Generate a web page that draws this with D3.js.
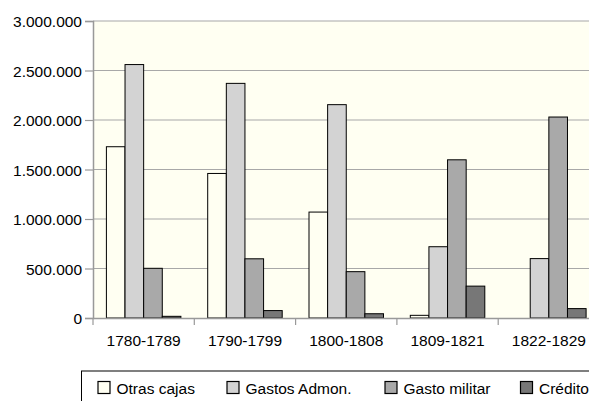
<!DOCTYPE html>
<html>
<head>
<meta charset="utf-8">
<script src="https://cdn.jsdelivr.net/npm/d3@7"></script>
<style>
html,body{margin:0;padding:0;background:#fff;overflow:hidden;}
svg{display:block;font-family:"Liberation Sans",Arial,Helvetica,sans-serif;}
</style>
</head>
<body>
<svg id="chart" width="589" height="401"></svg>
<script>
const categories = ["1780-1789","1790-1799","1800-1808","1809-1821","1822-1829"];
const seriesNames = ["Otras cajas","Gastos Admon.","Gasto militar","Crédito"];
const otrasCajas   = [1730000, 1460000, 1070000,   27000,       0];
const gastosAdmon  = [2560000, 2370000, 2155000,  720000,  600000];
const gastoMilitar = [ 502000,  598000,  468000, 1598000, 2030000];
const credito      = [  17000,   75000,   43000,  322000,   95000];
const yTicks = [0, 500000, 1000000, 1500000, 2000000, 2500000, 3000000];
const colors = ["#FFFFF2", "#D3D3D3", "#A9A9A9", "#777777"];

const seriesValues = [otrasCajas, gastosAdmon, gastoMilitar, credito];
const data = categories.map((c, i) => ({cat: c, vals: seriesValues.map(s => s[i])}));

const svg = d3.select("#chart");
const mLeft = 93, mTop = 21, mBottom = 318, mRight = 599.5;

const x0 = d3.scaleBand().domain(categories).range([mLeft, mRight]).padding(0);
const x1 = d3.scaleBand().domain(seriesNames.map((d,i)=>i)).range([13.4, x0.bandwidth() - 13.4]).padding(0);
const y = d3.scaleLinear().domain([0, 3000000]).range([mBottom, mTop]);

const fmt = v => d3.format(",")(v).replace(/,/g, ".");

// plot background
svg.append("rect").attr("x", mLeft).attr("y", mTop).attr("width", mRight - mLeft).attr("height", mBottom - mTop).attr("fill", "#FFFFF2");

// gridlines
svg.append("g").selectAll("line").data(yTicks.filter(t => t > 0)).join("line")
  .attr("x1", mLeft).attr("x2", 589).attr("y1", d => y(d)).attr("y2", d => y(d))
  .attr("stroke", "#A8A8A8").attr("stroke-width", 1.2);

// bars
const g = svg.append("g").selectAll("g").data(data).join("g")
  .attr("transform", d => `translate(${x0(d.cat)},0)`);
g.selectAll("rect").data(d => d.vals.map((v, i) => ({v, i})).filter(d => d.v > 0)).join("rect")
  .attr("x", d => x1(d.i)).attr("width", x1.bandwidth())
  .attr("y", d => y(d.v)).attr("height", d => y(0) - y(d.v))
  .attr("fill", d => colors[d.i]).attr("stroke", "#000").attr("stroke-width", 1);

// y axis
const yAxis = d3.axisLeft(y).tickValues(yTicks).tickFormat(fmt).tickSize(8).tickPadding(3);
const ya = svg.append("g").attr("transform", `translate(${mLeft},0)`).call(yAxis);
ya.select(".domain").attr("stroke", "#999").attr("stroke-width", 1.5);
ya.selectAll(".tick line").attr("stroke", "#999").attr("stroke-width", 1.2);
ya.selectAll("text").attr("font-size", "15.5px").attr("dy", "0.38em").attr("fill", "#000").attr("font-family", "Liberation Sans, Arial, sans-serif");

// x axis
const xAxis = d3.axisBottom(x0).tickSize(0).tickPadding(17).tickSizeOuter(0);
const xa = svg.append("g").attr("transform", `translate(0,${mBottom})`).call(xAxis);
xa.select(".domain").attr("stroke", "#999").attr("stroke-width", 1.5);
xa.selectAll("text").attr("font-size", "15.5px").attr("fill", "#000").attr("font-family", "Liberation Sans, Arial, sans-serif");
// category separator ticks
svg.append("g").selectAll("line").data(categories).join("line")
  .attr("x1", d => x0(d)).attr("x2", d => x0(d)).attr("y1", mBottom).attr("y2", mBottom + 7)
  .attr("stroke", "#999").attr("stroke-width", 1.2);

// legend
svg.append("rect").attr("x", 81.5).attr("y", 371).attr("width", 600).attr("height", 60)
  .attr("fill", "#fff").attr("stroke", "#000").attr("stroke-width", 1);
const legendX = [97.5, 226.5, 384.5, 520];
const lg = svg.append("g").selectAll("g").data(seriesNames).join("g")
  .attr("transform", (d, i) => `translate(${legendX[i]},381)`);
lg.append("rect").attr("x", 0.5).attr("y", 0.5).attr("width", 12).attr("height", 12)
  .attr("fill", (d, i) => colors[i]).attr("stroke", "#000").attr("stroke-width", 1.2);
lg.append("text").attr("x", 19).attr("y", 12.5).attr("font-size", "15.5px").attr("fill", "#000").text(d => d);
</script>
</body>
</html>
